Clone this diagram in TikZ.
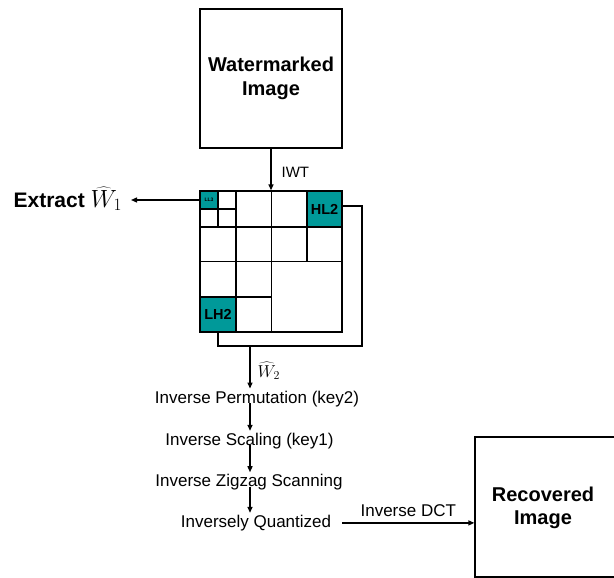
\documentclass[tikz,border=0pt]{standalone}
\usepackage{fontspec}
\setmainfont{Liberation Sans}
\usetikzlibrary{arrows.meta}
\definecolor{tealc}{RGB}{0,153,153}
\begin{document}
\begin{tikzpicture}[x=1pt,y=-1pt, line width=1.3pt,
  arr/.style={-{Triangle[length=6pt,width=5pt]}},
  bigtxt/.style={font=\fontsize{20}{23.3}\selectfont\bfseries, align=center},
  steptxt/.style={font=\fontsize{17}{20}\selectfont, inner sep=1.5pt, anchor=base},
  cell/.style={draw, fill=tealc, inner sep=0pt}]
\useasboundingbox (0,0) rectangle (614,578);
\clip (0,0) rectangle (614,578);

% Watermarked image
\node[draw, inner sep=0pt, minimum width=142pt, minimum height=139pt, bigtxt] (wm) at (271,78.5) {Watermarked\\Image};

% wavelet grid
\node[draw, inner sep=0pt, minimum width=142pt, minimum height=141pt] (grid) at (271,261.5) {};
\node[cell, minimum width=18pt, minimum height=18pt, font=\fontsize{5}{5}\selectfont\bfseries] (ll3) at (209,200) {LL3};
\node[cell, minimum width=35pt, minimum height=36pt, font=\fontsize{14.5}{16}\selectfont\bfseries] (hl2) at (324.5,209) {HL2};
\node[cell, minimum width=36pt, minimum height=35pt, font=\fontsize{14.5}{16}\selectfont\bfseries] (lh2) at (218,314.5) {LH2};
\draw (271.5,191) -- (271.5,332);
\draw (200,261.5) -- (342,261.5);
\draw (236,191) -- (236,332);
\draw (200,227) -- (342,227);
\draw (307,191) -- (307,261.5);
\draw (200,297) -- (271.5,297);
\draw (218,191) -- (218,227);
\draw (200,209) -- (236,209);

% IWT
\draw[arr] (wm.south) -- (grid.north);
\node[font=\fontsize{15}{18}\selectfont, anchor=base west, inner sep=0pt] (iwt) at (281,177) {IWT};

% Extract W1
\node[font=\fontsize{21}{24}\selectfont\bfseries, anchor=base west, inner sep=0pt] (ext) at (13,207) {Extract {\fontsize{25}{28}\selectfont$\widehat{W}_1$}};
\coordinate (w1end) at (131,200);
\draw[arr] (ll3.west) -- (w1end);

% bracket from HL2 / LH2
\coordinate (br) at (362,346);
\coordinate (col) at (250,346);
\draw ([yshift=3pt]hl2.east) -| (br) -| (lh2.south);
\node[font=\fontsize{17}{19}\selectfont, anchor=base west, inner sep=0pt] (w2) at (257,377) {$\widehat{W}_2$};

% steps
\node[steptxt] (perm) at (257,403) {Inverse Permutation (key2)};
\node[steptxt] (scal) at (249.5,445.3) {Inverse Scaling (key1)};
\node[steptxt] (zig) at (249,486.7) {Inverse Zigzag Scanning};
\node[steptxt] (quant) at (256,527.3) {Inversely Quantized};
\draw[arr] (col) -- (perm.north -| col);
\draw[arr] (perm.base -| col) -- (scal.north -| col);
\draw[arr] (scal.base -| col) -- (zig.north -| col);
\draw[arr] (zig.base -| col) -- (quant.north -| col);

% Recovered image
\node[draw, inner sep=0pt, minimum width=150pt, minimum height=140pt] (rec) at (550,507) {};
\node[bigtxt] (rectxt) at (543,508) {Recovered\\Image};
\draw[arr] ([xshift=9pt]quant.east) -- (quant.east -| rec.west)
  node[midway, above=6pt, inner sep=0pt, font=\fontsize{17}{20}\selectfont] (dct) {Inverse DCT};
\end{tikzpicture}
\end{document}
